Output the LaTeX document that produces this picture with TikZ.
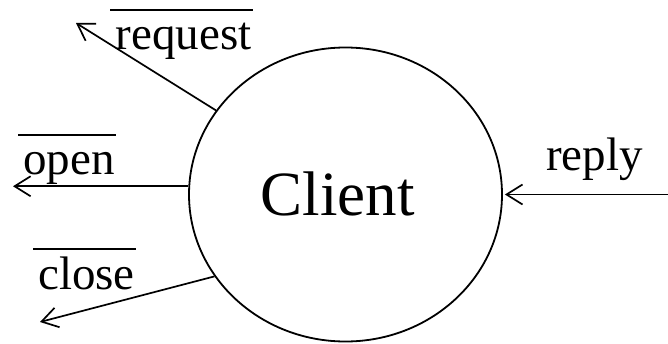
\documentclass[tikz,border=0pt]{standalone}
\usepackage{fontspec}
\setmainfont{Liberation Serif}
\usetikzlibrary{arrows.meta,shapes.geometric}
\begin{document}
\begin{tikzpicture}[x=1pt,y=1pt,
  conn/.style={line width=1.7pt, -{Straight Barb[length=16pt,width=20pt,line width=1.7pt]}},
  lbl/.style={anchor=base, inner sep=0pt, font=\fontsize{47}{47}\selectfont},
  bar/.style={line width=2pt}]
\useasboundingbox (0,0) rectangle (668,343);
\node[draw, ellipse, line width=1.8pt, minimum width=313pt, minimum height=294pt, inner sep=0pt] (client) at (345.5,148.5) {};
\node[anchor=base, inner sep=0pt, font=\fontsize{63}{63}\selectfont] (clientname) at (337.5,128) {Client};
\node[lbl] (request) at (183.5,293) {request};
\node[lbl] (open) at (69,168) {open};
\node[lbl] (close) at (86.5,54) {close};
\node[lbl] (reply) at (594.5,173) {reply};
\foreach \n in {request,open,close}
  \draw[bar] ([xshift=-5pt,yshift=40pt]\n.base west) -- ([xshift=1pt,yshift=40pt]\n.base east);
\coordinate (reqtip) at (76,320);
\coordinate (opentip) at (13,156);
\coordinate (closetip) at (40,21);
\coordinate (replysrc) at (668,148.5);
\draw[conn] (client.147) -- (reqtip);
\draw[conn] (client.177) -- (client.177 -| opentip);
\draw[conn] (client.212) -- (closetip);
\draw[conn, shorten >=2pt] (replysrc) -- (client.0);
\end{tikzpicture}
\end{document}
